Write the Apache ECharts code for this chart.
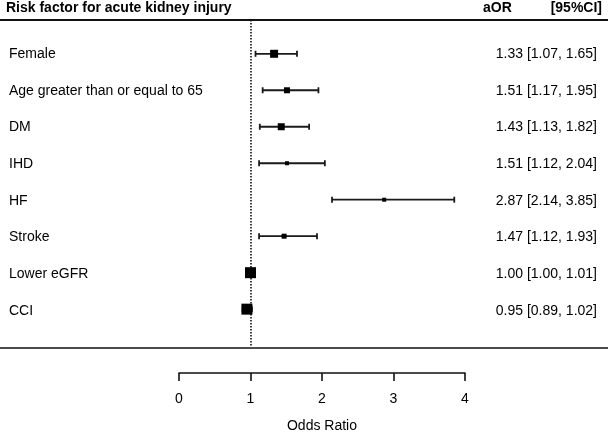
<!DOCTYPE html>
<html>
<head>
<meta charset="utf-8">
<script src="https://cdn.jsdelivr.net/npm/echarts@6/dist/echarts.min.js"></script>
<style>
html,body{margin:0;padding:0;background:#fff;}
#chart{width:608px;height:438px;}
</style>
</head>
<body>
<div id="chart"></div>
<script>
// ---- data ----
const factors = ["Female", "Age greater than or equal to 65", "DM", "IHD", "HF", "Stroke", "Lower eGFR", "CCI"];
const aor   = [1.33, 1.51, 1.43, 1.51, 2.87, 1.47, 1.00, 0.95];
const lower = [1.07, 1.17, 1.13, 1.12, 2.14, 1.12, 1.00, 0.89];
const upper = [1.65, 1.95, 1.82, 2.04, 3.85, 1.93, 1.01, 1.02];
const xTicks = [0, 1, 2, 3, 4];
const headerLeft = "Risk factor for acute kidney injury";
const headerAor = "aOR";
const headerCI = "[95%CI]";
const axisTitle = "Odds Ratio";

// ---- styling ----
const boxSizes = [8, 6, 7, 4, 4, 5, 11, 11];
const FONT = "'Liberation Sans', Arial, Helvetica, sans-serif";
const INK = '#000';

const ciText = aor.map((v, i) => v.toFixed(2) + ' [' + lower[i].toFixed(2) + ', ' + upper[i].toFixed(2) + ']');
const ciData = factors.map((f, i) => [i, lower[i], upper[i]]);
const ptData = factors.map((f, i) => [aor[i], i]);

const chart = echarts.init(document.getElementById('chart'), null, {renderer: 'canvas'});
chart.setOption({
  animation: false,
  backgroundColor: '#fff',
  textStyle: {fontFamily: FONT},
  grid: [
    {left: 179, width: 286, top: 20, height: 328},
    {left: 179, width: 286, top: 35.65, height: 293.6}
  ],
  xAxis: [
    {
      gridIndex: 0, type: 'value', min: xTicks[0], max: xTicks[xTicks.length - 1], interval: 1,
      offset: 27, position: 'bottom',
      axisLine: {show: true, onZero: false, lineStyle: {color: '#111', width: 1.6}},
      axisTick: {show: true, length: 8, lineStyle: {color: '#111', width: 1.6}},
      axisLabel: {color: INK, fontSize: 14, margin: 19, fontFamily: FONT},
      splitLine: {show: false},
      name: axisTitle, nameLocation: 'middle', nameGap: 46,
      nameTextStyle: {color: INK, fontSize: 14, fontFamily: FONT}
    },
    {gridIndex: 1, type: 'value', min: 0, max: 4, show: false}
  ],
  yAxis: [
    {gridIndex: 0, type: 'value', inverse: true, min: -0.926, max: 8.01, show: false},
    {
      gridIndex: 1, type: 'category', inverse: true, data: factors, position: 'left',
      axisLine: {show: false}, axisTick: {show: false}, splitLine: {show: false},
      axisLabel: {align: 'left', margin: 170, color: INK, fontSize: 14, fontFamily: FONT}
    },
    {
      gridIndex: 1, type: 'category', inverse: true, data: ciText, position: 'right',
      axisLine: {show: false}, axisTick: {show: false}, splitLine: {show: false},
      axisLabel: {align: 'right', margin: 132, color: INK, fontSize: 14, fontFamily: FONT}
    }
  ],
  series: [
    {
      type: 'custom', xAxisIndex: 0, yAxisIndex: 0, silent: true,
      encode: {x: [1, 2], y: 0},
      data: ciData,
      renderItem: function (params, api) {
        const row = api.value(0);
        const p1 = api.coord([api.value(1), row]);
        const p2 = api.coord([api.value(2), row]);
        const h = 3;
        const st = {stroke: '#1a1a1a', lineWidth: 1.8};
        return {
          type: 'group',
          children: [
            {type: 'line', shape: {x1: p1[0], y1: p1[1], x2: p2[0], y2: p2[1]}, style: st},
            {type: 'line', shape: {x1: p1[0], y1: p1[1] - h, x2: p1[0], y2: p1[1] + h}, style: st},
            {type: 'line', shape: {x1: p2[0], y1: p2[1] - h, x2: p2[0], y2: p2[1] + h}, style: st}
          ]
        };
      },
      z: 2,
      markLine: {
        silent: true, symbol: 'none', label: {show: false}, z: 1,
        lineStyle: {type: [1.5, 1.5], color: '#111', width: 1.6},
        data: [{xAxis: 1}]
      }
    },
    {
      type: 'scatter', xAxisIndex: 0, yAxisIndex: 0, silent: true,
      symbol: 'rect',
      symbolSize: function (val, params) { return boxSizes[params.dataIndex]; },
      itemStyle: {color: '#000', opacity: 1},
      data: ptData,
      z: 5
    }
  ],
  graphic: [
    {type: 'line', shape: {x1: 0, y1: 20, x2: 608, y2: 20}, style: {stroke: '#111', lineWidth: 2}, z: 10},
    {type: 'line', shape: {x1: 0, y1: 348, x2: 608, y2: 348}, style: {stroke: '#111', lineWidth: 1.6}, z: 10},
    {type: 'text', left: 6, top: 1, style: {text: headerLeft, fontSize: 14, fontWeight: 'bold', fill: INK, fontFamily: FONT}},
    {type: 'text', left: 483, top: 1, style: {text: headerAor, fontSize: 14, fontWeight: 'bold', fill: INK, fontFamily: FONT}},
    {type: 'text', right: 6, top: 1, style: {text: headerCI, fontSize: 14, fontWeight: 'bold', fill: INK, fontFamily: FONT}}
  ]
});
</script>
</body>
</html>
